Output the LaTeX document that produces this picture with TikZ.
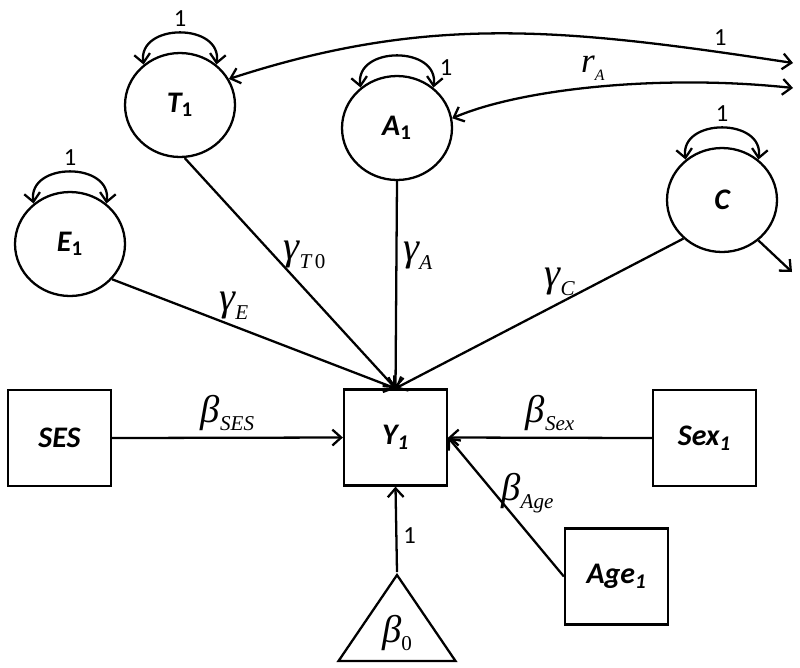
\documentclass[tikz,border=0pt]{standalone}
\usepackage{fontspec}
\setmainfont{Carlito}
\newfontfamily\grkfont{Liberation Serif}
\usetikzlibrary{positioning,shapes,arrows.meta}
\newcommand{\coefsub}[4][22]{{\grkfont\itshape\fontsize{#1}{#1}\selectfont #3\raisebox{-0.22em}{\fontsize{#2}{#2}\selectfont #4}}}

\begin{document}
\begin{tikzpicture}[x=0.02cm, y=-0.02cm, line width=1.3pt, >={Straight Barb[length=5pt,width=9pt]},
latentnode/.style={ellipse, draw=black, minimum width=2.2cm, minimum height=2.08cm, inner sep=0pt, font=\fontsize{17}{19}\selectfont\bfseries\itshape},
obsnode/.style={rectangle, draw=black, minimum width=2.06cm, minimum height=1.92cm, inner sep=0pt, font=\fontsize{17}{19}\selectfont\bfseries\itshape},
constnode/.style={isosceles triangle, draw=black, shape border rotate=90, isosceles triangle stretches, minimum width=2.34cm, minimum height=1.72cm, inner sep=0pt},
fixed/.style={font=\fontsize{14}{16}\selectfont},
]
\useasboundingbox (0,0) rectangle (800,667);

% latent factors
\node[latentnode]         (T1)      at (180,105)     {T\textsubscript{\upshape 1}};
\node[latentnode]         (A1)      at (397,128)     {A\textsubscript{\upshape 1}};
\node[latentnode]         (C)       at (722,200)     {C};
\node[latentnode]         (E1)      at (70,244)      {E\textsubscript{\upshape 1}};

% observed variables
\node[obsnode]            (SES)     at (59.5,438)    {SES};
\node[obsnode]            (Y1)      at (395.5,437.5) {Y\textsubscript{1}};
\node[obsnode]            (Sex1)    at (704.5,438)   {Sex\textsubscript{1}};
\node[obsnode]            (Age1)    at (616.5,576.5) {Age\textsubscript{1}};
\node[constnode, anchor=apex] (b0)  at (397,572)     {\coefsub{12}{β}{\upshape 0}};

% free ends on the right
\coordinate (tout) at (793,63);
\coordinate (aout) at (793,88);
\coordinate (cout) at (792,272);

% variances
\draw[<->] (T1.132) .. controls +(-6,-42) and +(6,-42) .. node[fixed, above] {1} (T1.48);
\draw[<->] (A1.132) .. controls +(-6,-42) and +(6,-42) .. node[fixed, pos=0.8, right=3pt] {1} (A1.48);
\draw[<->] (C.132) .. controls +(-6,-42) and +(6,-42) .. node[fixed, above] {1} (C.48);
\draw[<->] (E1.132) .. controls +(-6,-42) and +(6,-42) .. node[fixed, above] {1} (E1.48);

% covariances
\draw[<->] (T1.28) .. controls +(200,-65) and +(-230,-35) .. node[fixed, pos=0.89, above] {1} (tout);
\draw[<->] (A1.10) .. controls +(70,-30) and +(-130,-14) .. node[pos=0.48, above] {\coefsub[20]{9}{r}{A}} (aout);
\draw[->] (C.-48) -- (cout);

% paths to Y1
\draw[->] (T1.-85) -- node[pos=0.42, right=2pt] {\coefsub[23]{12}{γ}{T\,\upshape 0}} (Y1.north);
\draw[->] (A1.south) -- node[pos=0.36, right] {\coefsub[23]{12}{γ}{A}} (Y1.north);
\draw[->] (C.225) -- node[pos=0.43, above] {\coefsub[23]{12}{γ}{C}} (Y1.north);
\draw[->] (E1.-40) -- node[pos=0.43, above] {\coefsub[23]{12}{γ}{E}} (Y1.north);
\draw[->] (SES.east) -- node[above] {\coefsub{12}{β}{SES}} (Y1.west);
\draw[->] (Sex1.west) -- node[above] {\coefsub{12}{β}{Sex}} (Y1.east);
\draw[->] (Age1.west) -- node[pos=0.6, right] {\coefsub{12}{β}{Age}} (Y1.east);
\draw[->] (b0.apex) -- node[fixed, pos=0.43, right] {1} (Y1.south);
\end{tikzpicture}
\end{document}
